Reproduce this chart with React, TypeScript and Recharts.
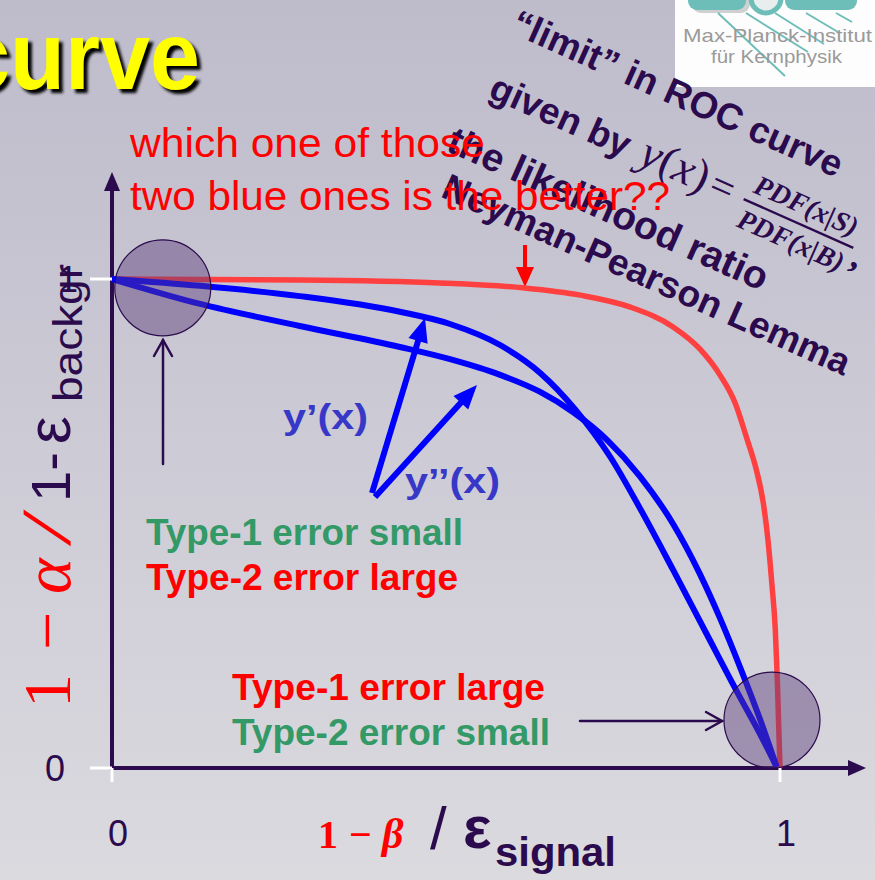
import React from 'react';
import { LineChart, Line, XAxis, YAxis, ReferenceDot } from 'recharts';

// Canvas and plot-area geometry
const WIDTH = 875;
const HEIGHT = 880;
const PLOT_LEFT = 112;
const PLOT_TOP = 279;
const PLOT_WIDTH = 668;
const PLOT_HEIGHT = 489;
const PLOT_RIGHT = PLOT_LEFT + PLOT_WIDTH;
const PLOT_BOTTOM = PLOT_TOP + PLOT_HEIGHT;
const X_AXIS_HEIGHT = 60;
const Y_AXIS_WIDTH = 60;

const INK = '#2b0b4d';
const RED = '#ff0000';
const GREEN = '#339966';
const BLUE = '#0000ff';
const LABEL_BLUE = '#3838c8';
const SANS = '"Liberation Sans", Arial, sans-serif';
const SERIF = '"Liberation Serif", "DejaVu Serif", serif';

// Axis ticks
const xTicks = [0, 1];
const yTicks = [0, 1];

// Neyman-Pearson limit: likelihood-ratio ROC curve
const limitCurve = [
  { x: 0, y: 1 },
  { x: 0.281, y: 0.998 },
  { x: 0.491, y: 0.992 },
  { x: 0.615, y: 0.982 },
  { x: 0.701, y: 0.967 },
  { x: 0.775, y: 0.943 },
  { x: 0.84, y: 0.902 },
  { x: 0.88, y: 0.857 },
  { x: 0.91, y: 0.804 },
  { x: 0.933, y: 0.746 },
  { x: 0.951, y: 0.671 },
  { x: 0.964, y: 0.613 },
  { x: 0.975, y: 0.542 },
  { x: 0.982, y: 0.466 },
  { x: 0.988, y: 0.374 },
  { x: 0.993, y: 0.282 },
  { x: 0.996, y: 0.18 },
  { x: 0.998, y: 0.088 },
  { x: 1, y: 0 },
];

// Classifier y'(x)
const yPrimeCurve = [
  { x: 0, y: 1 },
  { x: 0.132, y: 0.986 },
  { x: 0.281, y: 0.965 },
  { x: 0.431, y: 0.933 },
  { x: 0.506, y: 0.908 },
  { x: 0.581, y: 0.865 },
  { x: 0.641, y: 0.808 },
  { x: 0.693, y: 0.734 },
  { x: 0.746, y: 0.636 },
  { x: 0.79, y: 0.532 },
  { x: 0.84, y: 0.405 },
  { x: 0.891, y: 0.272 },
  { x: 0.94, y: 0.145 },
  { x: 0.97, y: 0.07 },
  { x: 0.995, y: 0.002 },
];

// Classifier y''(x)
const yDoublePrimeCurve = [
  { x: 0, y: 1 },
  { x: 0.132, y: 0.949 },
  { x: 0.281, y: 0.904 },
  { x: 0.431, y: 0.861 },
  { x: 0.506, y: 0.836 },
  { x: 0.581, y: 0.804 },
  { x: 0.641, y: 0.769 },
  { x: 0.69, y: 0.728 },
  { x: 0.741, y: 0.671 },
  { x: 0.79, y: 0.597 },
  { x: 0.84, y: 0.499 },
  { x: 0.88, y: 0.397 },
  { x: 0.91, y: 0.307 },
  { x: 0.94, y: 0.207 },
  { x: 0.97, y: 0.1 },
  { x: 0.995, y: 0.002 },
];

// Highlighted working points (data units)
const lowTypeOneSpot = { x: 0.076, y: 0.982 };
const lowTypeTwoSpot = { x: 0.988, y: 0.098 };

const XTick = (props: any) => {
  const { x, payload } = props;
  return (
    <g>
      <line x1={x} x2={x} y1={PLOT_BOTTOM} y2={PLOT_BOTTOM + 14} stroke="#ffffff" strokeWidth={3} />
      <text x={x + 6} y={PLOT_BOTTOM + 78} textAnchor="middle" fontFamily={SANS} fontSize={36} fill={INK}>
        {payload.value}
      </text>
    </g>
  );
};

const YTick = (props: any) => {
  const { y, payload } = props;
  const labelX = payload.value === 1 ? PLOT_LEFT - 44 : PLOT_LEFT - 57;
  return (
    <g>
      <line x1={PLOT_LEFT - 22} x2={PLOT_LEFT} y1={y} y2={y} stroke="#ffffff" strokeWidth={3} />
      <text x={labelX} y={y + 13} textAnchor="middle" fontFamily={SANS} fontSize={36} fill={INK}>
        {payload.value}
      </text>
    </g>
  );
};

// Straight arrow with a filled head
const SolidArrow = ({ from, to, color, width, head, half }: any) => {
  const dx = to[0] - from[0];
  const dy = to[1] - from[1];
  const len = Math.hypot(dx, dy);
  const ux = dx / len;
  const uy = dy / len;
  const bx = to[0] - ux * head;
  const by = to[1] - uy * head;
  const px = -uy * half;
  const py = ux * half;
  return (
    <g>
      <line x1={from[0]} y1={from[1]} x2={bx + ux * 2} y2={by + uy * 2} stroke={color} strokeWidth={width} />
      <polygon points={`${to[0]},${to[1]} ${bx + px},${by + py} ${bx - px},${by - py}`} fill={color} />
    </g>
  );
};

// Thin arrow with an open (chevron) head
const OpenArrow = ({ from, to, color }: any) => {
  const dx = to[0] - from[0];
  const dy = to[1] - from[1];
  const len = Math.hypot(dx, dy);
  const ux = dx / len;
  const uy = dy / len;
  const bx = to[0] - ux * 16;
  const by = to[1] - uy * 16;
  const px = -uy * 9;
  const py = ux * 9;
  return (
    <g stroke={color} strokeWidth={2.5} fill="none" strokeLinecap="round">
      <line x1={from[0]} y1={from[1]} x2={to[0]} y2={to[1]} />
      <polyline points={`${bx + px},${by + py} ${to[0]},${to[1]} ${bx - px},${by - py}`} />
    </g>
  );
};

const Backdrop = () => (
  <svg width={WIDTH} height={HEIGHT} style={{ position: 'absolute', left: 0, top: 0 }}>
    <defs>
      <linearGradient id="slideBg" x1="0" y1="0" x2="0" y2="1">
        <stop offset="0" stopColor="#bebbcb" />
        <stop offset="1" stopColor="#dbdadf" />
      </linearGradient>
      <filter id="titleShadow" x="-10%" y="-10%" width="130%" height="130%">
        <feGaussianBlur stdDeviation="1.6" />
      </filter>
    </defs>
    <rect x={0} y={0} width={WIDTH} height={HEIGHT} fill="url(#slideBg)" />

    {/* institute logo */}
    <g>
      <rect x={675} y={0} width={200} height={87} fill="#fdfdfd" />
      <rect x={690} y={-14} width={58} height={24} rx={9} fill="#7a7a7a" opacity={0.35} transform="translate(2 3)" />
      <rect x={688} y={-14} width={58} height={24} rx={9} fill="#6dbdb9" />
      <rect x={785} y={-14} width={72} height={24} rx={9} fill="#6dbdb9" />
      <circle cx={766} cy={-2} r={15} fill="#e8eeee" stroke="#6dbdb9" strokeWidth={5} />
      <g stroke="#6dbdb9" strokeWidth={2}>
        <line x1={718} y1={13} x2={785} y2={76} />
        <line x1={746} y1={13} x2={808} y2={52} />
        <line x1={775} y1={13} x2={824} y2={44} />
        <line x1={806} y1={13} x2={838} y2={32} />
        <line x1={836} y1={13} x2={852} y2={22} />
      </g>
      <text x={683} y={42} fontFamily={SANS} fontSize={19} fill="#9a9a9a" textLength={189} lengthAdjust="spacingAndGlyphs">
        Max-Planck-Institut
      </text>
      <text x={711} y={63} fontFamily={SANS} fontSize={19} fill="#9a9a9a" textLength={131} lengthAdjust="spacingAndGlyphs">
        für Kernphysik
      </text>
    </g>

    {/* slide title */}
    <text x={-36} y={93} fontFamily={SANS} fontWeight="bold" fontSize={97} fill="#000" filter="url(#titleShadow)" textLength={240} lengthAdjust="spacingAndGlyphs">
      curve
    </text>
    <text x={-40} y={89} fontFamily={SANS} fontWeight="bold" fontSize={97} fill="#ffff00" textLength={240} lengthAdjust="spacingAndGlyphs">
      curve
    </text>

    {/* slanted note on the likelihood ratio */}
    <g transform="translate(522 38) rotate(24)" fill={INK} fontFamily={SANS} fontWeight="bold" fontSize={37}>
      <text x={-14} y={0}>“limit” in ROC curve</text>
      <text x={-8} y={68}>given by</text>
      <text x={156} y={68} fontFamily={SERIF} fontWeight="normal" fontSize={46}>
        <tspan fontStyle="italic">y</tspan>(<tspan fontStyle="italic">x</tspan>)
      </text>
      <text x={232} y={68} fontFamily={SERIF} fontWeight="normal" fontSize={42}>=</text>
      <text x={328} y={47} textAnchor="middle" fontFamily={SERIF} fontStyle="italic" fontSize={28}>
        PDF(x|S)
      </text>
      <line x1={268} x2={388} y1={57} y2={57} stroke={INK} strokeWidth={2.5} />
      <text x={328} y={85} textAnchor="middle" fontFamily={SERIF} fontStyle="italic" fontSize={28}>
        PDF(x|B)
      </text>
      <text x={391} y={75} fontFamily={SERIF} fontSize={36}>,</text>
      <text x={-25} y={134} fontSize={39}>the likelihood ratio</text>
      <text x={-11} y={178} fontSize={37}>Neyman-Pearson Lemma</text>
    </g>

    {/* question */}
    <g fill={RED} fontFamily={SANS} fontSize={41}>
      <text x={130} y={157} textLength={355} lengthAdjust="spacingAndGlyphs">which one of those</text>
      <text x={130} y={210} textLength={540} lengthAdjust="spacingAndGlyphs">two blue ones is the better??</text>
    </g>

    {/* axes with arrow heads */}
    <g fill={INK} stroke="none">
      <rect x={PLOT_LEFT - 2} y={186} width={4} height={PLOT_BOTTOM - 186 + 2} />
      <polygon points={`${PLOT_LEFT},172 ${PLOT_LEFT - 8},191 ${PLOT_LEFT + 8},191`} />
      <rect x={PLOT_LEFT - 2} y={PLOT_BOTTOM - 2} width={852 - PLOT_LEFT} height={4} />
      <polygon points={`866,${PLOT_BOTTOM} 848,${PLOT_BOTTOM - 8} 848,${PLOT_BOTTOM + 8}`} />
    </g>

    {/* y-axis title, read bottom to top */}
    <g transform="translate(70 0) rotate(-90)">
      <text x={-708} y={0} fontFamily={SERIF} fontSize={68} fill={RED}>1</text>
      <text x={-650} y={0} fontFamily={SERIF} fontSize={68} fill={RED}>−</text>
      <text x={-594} y={0} fontFamily={SERIF} fontStyle="italic" fontSize={68} fill={RED}>α</text>
      <text transform="translate(-546 0) skewX(-22)" x={0} y={0} fontFamily={SANS} fontSize={64} fill={RED}>/</text>
      <text x={-502} y={0} fontFamily={SANS} fontSize={56} fill={INK}>1-</text>
      <text x={-444} y={0} fontFamily={SANS} fontSize={62} fill={INK}>ε</text>
      <text x={-402} y={12} fontFamily={SANS} fontSize={40} fill={INK} textLength={138} lengthAdjust="spacingAndGlyphs">
        backgr
      </text>
    </g>

    {/* x-axis title */}
    <text x={318} y={848} fontFamily={SERIF} fontWeight="bold" fontSize={40} fill={RED}>1</text>
    <text x={349} y={848} fontFamily={SERIF} fontWeight="bold" fontSize={40} fill={RED}>−</text>
    <text x={382} y={848} fontFamily={SERIF} fontWeight="bold" fontStyle="italic" fontSize={42} fill={RED}>β</text>
    <text x={430} y={849} fontFamily={SANS} fontSize={60} fill={INK}>/</text>
    <text x={463} y={848} fontFamily={SANS} fontWeight="bold" fontSize={60} fill={INK}>ε</text>
    <text x={495} y={866} fontFamily={SANS} fontWeight="bold" fontSize={40} fill={INK} textLength={121} lengthAdjust="spacingAndGlyphs">
      signal
    </text>

    {/* curve labels */}
    <g fontFamily={SANS} fontWeight="bold" fontSize={35} fill={LABEL_BLUE}>
      <text x={283} y={429} textLength={85} lengthAdjust="spacingAndGlyphs">y’(x)</text>
      <text x={405} y={493} textLength={95} lengthAdjust="spacingAndGlyphs">y’’(x)</text>
    </g>
    <SolidArrow from={[372, 493]} to={[425, 318]} color={BLUE} width={6} head={24} half={10} />
    <SolidArrow from={[375, 497]} to={[477, 385]} color={BLUE} width={6} head={24} half={10} />

    {/* error-type annotations */}
    <g fontFamily={SANS} fontWeight="bold" fontSize={36}>
      <text x={146} y={545} fill={GREEN} textLength={317} lengthAdjust="spacingAndGlyphs">Type-1 error small</text>
      <text x={146} y={590} fill={RED} textLength={312} lengthAdjust="spacingAndGlyphs">Type-2 error large</text>
      <text x={232} y={700} fill={RED} textLength={313} lengthAdjust="spacingAndGlyphs">Type-1 error large</text>
      <text x={232} y={745} fill={GREEN} textLength={318} lengthAdjust="spacingAndGlyphs">Type-2 error small</text>
    </g>
    <OpenArrow from={[163, 464]} to={[163, 340]} color={INK} />
    <OpenArrow from={[580, 721]} to={[722, 721]} color={INK} />
    <SolidArrow from={[525, 245]} to={[525, 287]} color={RED} width={4} head={20} half={9} />
  </svg>
);

export default function App() {
  return (
    <div style={{ position: 'absolute', left: 0, top: 0, width: WIDTH, height: HEIGHT, overflow: 'hidden' }}>
      <Backdrop />
      <div style={{ position: 'absolute', left: 0, top: 0 }}>
        <LineChart
          width={WIDTH}
          height={HEIGHT}
          margin={{
            top: PLOT_TOP,
            right: WIDTH - PLOT_RIGHT,
            bottom: HEIGHT - PLOT_BOTTOM - X_AXIS_HEIGHT,
            left: PLOT_LEFT - Y_AXIS_WIDTH,
          }}
        >
          <XAxis
            dataKey="x"
            type="number"
            domain={[0, 1]}
            ticks={xTicks}
            interval={0}
            height={X_AXIS_HEIGHT}
            axisLine={false}
            tickLine={false}
            tick={(p: any) => <XTick {...p} />}
          />
          <YAxis
            type="number"
            domain={[0, 1]}
            ticks={yTicks}
            interval={0}
            width={Y_AXIS_WIDTH}
            axisLine={false}
            tickLine={false}
            tick={(p: any) => <YTick {...p} />}
          />
          <Line data={limitCurve} dataKey="y" type="monotone" stroke="#ff4040" strokeWidth={5.5} dot={false} isAnimationActive={false} />
          <Line data={yPrimeCurve} dataKey="y" type="monotone" stroke={BLUE} strokeWidth={6} dot={false} isAnimationActive={false} />
          <Line data={yDoublePrimeCurve} dataKey="y" type="monotone" stroke={BLUE} strokeWidth={6} dot={false} isAnimationActive={false} />
          <ReferenceDot x={lowTypeOneSpot.x} y={lowTypeOneSpot.y} r={48} fill="#5a3c7a" fillOpacity={0.45} stroke={INK} strokeWidth={1.2} />
          <ReferenceDot x={lowTypeTwoSpot.x} y={lowTypeTwoSpot.y} r={48} fill="#5a3c7a" fillOpacity={0.45} stroke={INK} strokeWidth={1.2} />
        </LineChart>
      </div>
    </div>
  );
}
